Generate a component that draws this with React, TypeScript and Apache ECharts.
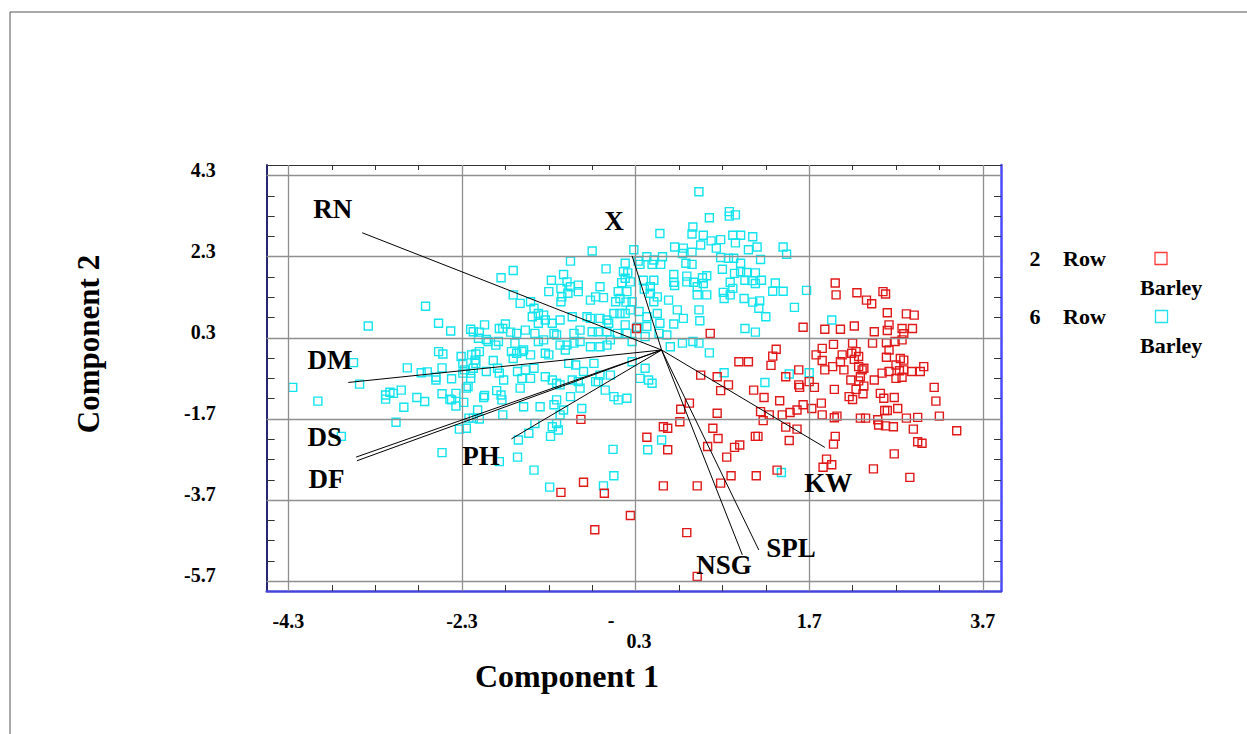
import React, { useEffect, useRef } from "react";
import * as echarts from "echarts";

// ---- axis ranges & ticks ----
const X_MIN = -4.55;
const X_MAX = 3.91;
const Y_MIN = -5.94;
const Y_MAX = 4.56;
const xTicks = [-4.3, -3.8, -3.3, -2.8, -2.3, -1.8, -1.3, -0.8, -0.3, 0.2, 0.7, 1.2, 1.7, 2.2, 2.7, 3.2, 3.7];
const yTicks = [4.3, 3.8, 3.3, 2.8, 2.3, 1.8, 1.3, 0.8, 0.3, -0.2, -0.7, -1.2, -1.7, -2.2, -2.7, -3.2, -3.7, -4.2, -4.7, -5.2, -5.7];
const xMajor = [-4.3, -2.3, -0.3, 1.7, 3.7];
const xLabelVals = [-4.3, -2.3, 1.7, 3.7];
const yMajor = [4.3, 2.3, 0.3, -1.7, -3.7, -5.7];

// ---- loading vectors ----
const vectorNames = ["RN", "X", "DM", "DS", "DF", "PH", "KW", "NSG", "SPL"];
const vectorX = [-3.45, -0.34, -3.61, -3.52, -3.51, -1.73, 1.88, 0.93, 1.12];
const vectorY = [2.89, 2.32, -0.8, -2.64, -2.73, -2.19, -2.4, -5.05, -4.93];
const labelX = [-3.79, -0.55, -3.82, -3.88, -3.86, -2.08, 1.92, 0.72, 1.49];
const labelY = [3.47, 3.18, -0.25, -2.14, -3.19, -2.61, -3.28, -5.3, -4.88];

// ---- scores: 6 Row Barley ----
const sixRow: number[][] = [
  [-1.85, 1.78], [-1.71, 1.96], [-1.71, 1.36],
  [0.43, 3.9], [0.55, 3.26], [0.78, 3.41], [0.85, 3.33], [0.78, 3.3], [-0.02, 2.87], [0.36, 3.03], [0.35, 2.86], [0.48, 2.83], [0.57, 2.69], [0.68, 2.72], [0.82, 2.83], [0.91, 2.83], [1.05, 2.79], [0.85, 2.64], [0.45, 2.59], [-0.8, 2.44], [-0.32, 2.47], [0.15, 2.54], [0.25, 2.51], [0.35, 2.41], [0.24, 2.38], [0.63, 2.51], [1.0, 2.47], [-1.05, 2.19], [-0.64, 2.0], [-0.42, 2.14], [-0.27, 2.19], [-0.17, 2.3], [-0.09, 2.22], [0.01, 2.3], [-0.25, 2.11], [-0.11, 2.11], [-0.01, 2.11], [0.28, 2.14], [0.35, 2.11], [0.68, 2.28], [0.77, 2.26], [0.83, 2.26], [0.91, 2.14], [0.7, 1.99], [0.84, 1.89], [0.91, 1.93], [0.98, 1.91], [1.08, 1.9], [-1.13, 1.86], [-1.27, 1.72], [-1.09, 1.68], [-0.96, 1.6], [-1.05, 1.56], [-1.16, 1.52], [-1.3, 1.44], [-0.96, 1.44], [-1.08, 1.4], [-0.71, 1.56], [-0.44, 1.93], [-0.39, 1.9], [-0.42, 1.77], [-0.46, 1.66], [-0.36, 1.68], [-0.21, 1.72], [-0.09, 1.72], [0.14, 1.86], [0.14, 1.67], [0.15, 1.59], [0.29, 1.82], [0.29, 1.68], [0.37, 1.67], [0.47, 1.78], [0.52, 1.83], [0.48, 1.64], [0.41, 1.56], [0.71, 1.42], [0.79, 1.67], [0.82, 1.52], [0.96, 1.72], [1.04, 1.71], [1.08, 1.64], [-0.5, 1.44], [-0.4, 1.44], [-0.2, 1.5], [-0.13, 1.56], [-1.15, 1.31], [-1.16, 1.19], [-0.82, 1.23], [-0.76, 1.31], [-0.67, 1.29], [-0.53, 1.19], [-0.48, 1.27], [-0.13, 1.4], [-0.05, 1.31], [0.08, 1.23], [0.52, 1.36], [0.41, 1.36], [0.79, 1.36], [0.95, 1.27], [1.05, 1.18], [0.72, 1.27], [-0.34, 1.19], [-0.41, 1.18], [-0.09, 1.19], [-1.63, 1.15], [-1.51, 1.19],
  [1.1, 2.54], [1.4, 2.54], [1.44, 2.36], [1.14, 2.23], [1.15, 1.72], [1.31, 1.65], [1.28, 1.45], [1.4, 1.45], [1.67, 1.47], [1.13, 1.21],
  [-2.72, 1.08], [-3.38, 0.59], [-2.57, 0.66], [-2.43, 0.47], [-2.2, 0.51], [-2.17, 0.45], [-2.1, 0.44], [-2.04, 0.62], [-1.87, 0.53], [-1.8, 0.64], [-1.83, 0.53], [-1.74, 0.44], [-2.11, 0.29], [-2.02, 0.26], [-2.0, 0.21], [-1.88, 0.21], [-1.91, 0.12], [-2.57, -0.04], [-2.52, -0.1], [-2.31, -0.16], [-2.29, -0.33], [-2.19, -0.12], [-2.14, -0.1], [-2.1, -0.04], [-2.15, -0.25], [-2.14, -0.33], [-1.94, -0.26], [-1.73, -0.04], [-1.71, -0.21], [-3.55, -0.31], [-2.93, -0.44], [-2.53, -0.44], [-2.77, -0.56], [-2.7, -0.54], [-2.6, -0.67], [-2.6, -0.74], [-2.42, -0.71], [-2.29, -0.57], [-2.27, -0.49], [-2.2, -0.57], [-2.2, -0.7], [-2.17, -0.45], [-2.02, -0.53], [-1.89, -0.45], [-1.87, -0.57], [-1.82, -0.74], [-3.48, -0.84], [-4.25, -0.92], [-3.96, -1.26], [-3.18, -1.11], [-3.18, -1.21], [-3.13, -1.04], [-3.09, -1.07], [-3.0, -0.99], [-2.82, -1.17], [-2.73, -1.27], [-2.97, -1.41], [-2.53, -1.08], [-2.44, -1.21], [-2.37, -1.07], [-2.42, -1.23], [-2.37, -1.38], [-2.28, -1.29], [-2.25, -0.94], [-2.23, -0.9], [-2.04, -1.12], [-2.05, -1.17], [-1.9, -1.0], [-1.85, -1.11], [-1.84, -1.23], [-1.83, -1.6], [-2.12, -1.48], [-2.17, -1.68], [-2.1, -1.7], [-2.22, -1.68], [-3.06, -1.78], [-2.33, -1.95], [-2.25, -1.93], [-3.69, -2.13],
  [-1.47, 1.03], [-1.49, 0.82], [-1.42, 0.9], [-1.36, 0.86], [-1.42, 0.66], [-1.34, 0.74], [-1.26, 0.66], [-1.17, 0.74], [-1.03, 0.82], [-0.86, 0.82], [-0.82, 0.78], [-0.71, 0.78], [-0.63, 0.74], [-0.61, 0.66], [-0.55, 0.9], [-0.48, 0.9], [-0.42, 0.9], [-0.36, 0.99], [-0.26, 0.95], [-0.17, 0.82], [-0.05, 0.9], [0.18, 0.99], [0.25, 0.78], [0.43, 0.99], [0.44, 0.72], [-0.42, 0.62], [-0.28, 0.56], [-0.17, 0.58], [-0.02, 0.66], [0.14, 0.64], [-1.67, 0.41], [-1.57, 0.49], [-1.46, 0.41], [-1.42, 0.21], [-1.36, 0.25], [-1.24, 0.41], [-1.21, 0.37], [-1.01, 0.41], [-0.94, 0.49], [-0.8, 0.45], [-0.73, 0.45], [-0.63, 0.45], [-0.51, 0.41], [-0.4, 0.41], [-0.34, 0.21], [-0.19, 0.33], [-0.03, 0.41], [0.06, 0.37], [0.1, 0.08], [0.24, 0.17], [0.36, 0.21], [0.43, 0.17], [0.55, -0.07], [0.96, 0.53], [1.08, 0.44], [-1.69, 0.17], [-1.59, 0.0], [-1.67, -0.08], [-1.61, -0.04], [-1.51, -0.12], [-1.34, -0.08], [-1.3, -0.12], [-1.17, 0.12], [-1.09, 0.12], [-1.11, 0.0], [-1.01, 0.17], [-0.94, 0.21], [-0.82, 0.08], [-0.71, 0.08], [-0.63, 0.12], [-0.59, 0.25], [-1.07, -0.33], [-0.99, -0.37], [-0.78, -0.33], [-0.9, -0.53], [-0.71, -0.62], [-0.59, -0.62], [-0.34, -0.29], [-0.19, -0.45], [-0.25, -0.7], [-0.15, -0.74], [-0.11, -0.82], [-1.66, -0.53], [-1.57, -0.49], [-1.47, -0.45], [-1.51, -0.7], [-1.61, -0.7], [-1.34, -0.66], [-1.26, -0.74], [-1.21, -0.82], [-1.17, -0.86], [-1.03, -0.74], [-0.96, -0.78], [-0.94, -0.94], [-0.76, -0.78], [-0.73, -0.78], [-1.63, -0.94], [-1.21, -1.23], [-1.05, -1.15], [-0.92, -1.44], [-0.65, -0.99], [-0.55, -1.15], [-0.5, -1.23], [-0.4, -1.19], [-1.59, -1.4], [-1.4, -1.4], [-1.24, -1.35], [-1.13, -1.48], [-1.17, -1.6], [-1.21, -1.81], [-1.26, -1.89], [-1.19, -1.97], [-1.46, -1.81], [-1.53, -2.05], [-1.28, -2.13], [-1.65, -2.22], [0.72, -0.56], [0.0, -2.22],
  [1.12, 1.03], [1.2, 0.82], [1.53, 1.05], [1.96, 0.74], [1.47, -0.59], [1.7, -0.56], [1.19, -0.8],
  [-2.53, -2.53], [-1.87, -2.75],
  [-1.66, -2.64], [-1.47, -2.96], [-1.29, -3.38], [-0.67, -3.35], [-0.55, -3.1], [-0.56, -2.45], [-0.16, -2.46],
  [1.38, -3.02],
];

// ---- scores: 2 Row Barley ----
const twoRow: number[][] = [
  [2.0, 1.65], [2.01, 1.36], [2.25, 1.41], [2.36, 1.23], [2.42, 1.14], [2.55, 1.44], [2.58, 1.38],
  [-0.29, 0.53], [0.56, 0.41], [0.89, -0.29], [1.0, -0.29], [0.45, -0.62], [0.64, -0.66], [0.77, -0.86], [0.68, -1.0], [1.06, -0.99], [0.32, -1.31], [0.22, -1.46], [0.64, -1.56], [0.21, -1.77], [0.02, -1.89], [0.07, -1.93], [-0.93, -1.71], [0.59, -1.93], [-0.17, -2.15], [0.65, -2.18], [1.08, -2.13],
  [1.63, 0.56], [1.88, 0.51], [2.06, 0.51], [2.22, 0.59], [2.45, 0.45], [2.6, 0.92], [2.82, 0.89], [2.91, 0.86], [2.62, 0.62], [2.6, 0.48], [2.77, 0.53], [2.89, 0.53], [2.79, 0.4], [2.77, 0.25], [2.69, 0.21], [2.59, 0.18], [2.43, 0.17], [2.2, 0.17], [1.98, 0.14], [1.85, 0.04], [1.78, -0.12], [1.85, -0.26], [1.32, 0.02], [1.28, -0.15], [1.26, -0.38], [1.58, -0.49], [1.43, -0.66], [1.88, -0.49], [1.97, -0.41], [2.08, -0.12], [2.06, -0.29], [2.19, -0.08], [2.24, -0.04], [2.27, -0.16], [2.22, -0.23], [2.1, -0.49], [2.27, -0.41], [2.31, -0.49], [2.33, -0.45], [2.29, -0.66], [2.18, -0.74], [2.27, -0.76], [2.45, -0.74], [2.54, -0.57], [2.62, -0.53], [2.7, -0.7], [2.77, -0.67], [2.74, -0.51], [2.75, -0.21], [2.79, -0.25], [2.7, -0.37], [2.79, -0.49], [2.88, -0.53], [2.98, -0.53], [3.02, -0.41], [2.59, -0.18], [2.62, 0.0], [1.58, -0.86], [1.59, -0.92], [1.7, -0.78], [1.76, -0.92], [1.99, -0.97], [2.24, -0.97], [2.33, -0.89], [2.32, -1.08], [2.52, -1.07], [2.56, -1.19], [2.68, -1.17], [2.72, -1.44], [2.2, -1.22], [2.16, -1.15], [2.57, -1.49], [2.6, -1.49], [3.14, -0.92], [3.16, -1.26], [3.2, -1.63], [2.95, -1.66], [2.82, -1.68], [1.18, -1.17], [1.36, -1.25], [1.63, -1.35], [1.56, -1.48], [1.48, -1.54], [1.39, -1.6], [1.24, -1.6], [1.17, -1.74], [1.14, -1.52], [1.73, -1.44], [1.84, -1.31], [1.85, -1.6], [1.99, -1.67], [2.02, -1.63], [2.29, -1.68], [2.35, -1.68], [2.49, -1.72], [2.5, -1.85], [2.58, -1.87], [2.67, -1.89], [2.9, -1.95], [3.4, -1.99], [1.43, -1.9], [1.56, -1.95], [1.11, -2.13], [1.47, -2.23], [2.0, -2.13], [1.98, -2.32],
  [-1.16, -3.51], [-0.9, -3.26], [-0.66, -3.53], [-0.36, -4.08], [-0.77, -4.43], [0.02, -3.35], [0.41, -3.35], [0.29, -4.5], [0.68, -3.28], [0.8, -3.1], [1.09, -3.1], [0.75, -2.64], [0.53, -2.38], [0.84, -2.4], [0.9, -2.34], [0.07, -2.46], [0.41, -5.58],
  [1.33, -2.96], [1.9, -2.69], [1.96, -2.83], [1.86, -2.89], [2.44, -2.93], [2.68, -2.56], [2.86, -3.14], [2.95, -2.26], [3.0, -2.3],
];

const FONT = "'Liberation Serif', 'Times New Roman', serif";
const CYAN = "#12e4ee";
const RED = "#e01818";
const TICK_FONT = 20;

export default function App() {
  const ref = useRef<HTMLDivElement>(null);

  useEffect(() => {
    document.body.style.margin = "0";
    if (!ref.current) return;
    const chart = echarts.init(ref.current, null, { renderer: "svg" });

    const baseAxis = {
      type: "value" as const,
      splitLine: { show: false },
    };

    const vectorSeries = vectorNames.map((n, i) => ({
      name: n,
      type: "line" as const,
      data: [
        [0, 0],
        [vectorX[i], vectorY[i]],
      ],
      symbol: "none",
      lineStyle: { color: "#000", width: 1 },
      silent: true,
      z: 5,
    }));

    const option: any = {
      animation: false,
      backgroundColor: "#fff",
      grid: { left: 266.7, top: 165, right: 246, bottom: 143, containLabel: false },
      xAxis: [
        {
          ...baseAxis,
          position: "bottom",
          min: X_MIN,
          max: X_MAX,
          axisLine: { show: true, onZero: false, lineStyle: { color: "#4444dd", width: 2.5 } },
          axisTick: { show: true, inside: true, length: 6, customValues: xTicks, lineStyle: { color: "#333", width: 1 } },
          axisLabel: {
            customValues: xLabelVals,
            formatter: (v: number) => v.toFixed(1),
            fontFamily: FONT,
            fontWeight: "bold",
            fontSize: TICK_FONT,
            color: "#000",
            margin: 20,
          },
        },
        {
          ...baseAxis,
          position: "top",
          min: X_MIN,
          max: X_MAX,
          axisLine: { show: true, onZero: false, lineStyle: { color: "#333", width: 1.2 } },
          axisTick: { show: true, inside: true, length: 5, customValues: xTicks, lineStyle: { color: "#333", width: 1 } },
          axisLabel: { show: false },
        },
      ],
      yAxis: [
        {
          ...baseAxis,
          position: "left",
          min: Y_MIN,
          max: Y_MAX,
          axisLine: { show: true, onZero: false, lineStyle: { color: "#262673", width: 2 } },
          axisTick: { show: true, inside: true, length: 8, customValues: yTicks, lineStyle: { color: "#333", width: 1 } },
          axisLabel: {
            customValues: yMajor,
            formatter: (v: number) => v.toFixed(1),
            fontFamily: FONT,
            fontWeight: "bold",
            fontSize: TICK_FONT,
            color: "#000",
            margin: 51,
            verticalAlign: "bottom",
            lineHeight: 12,
          },
        },
        {
          ...baseAxis,
          position: "right",
          min: Y_MIN,
          max: Y_MAX,
          axisLine: { show: true, onZero: false, lineStyle: { color: "#4a4aff", width: 2.5 } },
          axisTick: { show: true, inside: true, length: 7, customValues: yTicks, lineStyle: { color: "#333", width: 1 } },
          axisLabel: { show: false },
        },
      ],
      series: [
        {
          name: "grid",
          type: "line",
          data: [[0, 0]],
          symbol: "none",
          showSymbol: false,
          silent: true,
          z: 1,
          lineStyle: { opacity: 0 },
          markLine: {
            silent: true,
            symbol: ["none", "none"],
            label: { show: false },
            lineStyle: { color: "#8f8f8f", type: "solid", width: 1.3 },
            data: [
              ...xMajor.map((v) => ({ xAxis: v })),
              ...yMajor.map((v) => ({ yAxis: v })),
            ],
          },
        },
        {
          name: "6 Row Barley",
          type: "scatter",
          data: sixRow,
          symbol: "rect",
          symbolSize: 8,
          itemStyle: { color: "rgba(0,0,0,0)", borderColor: CYAN, borderWidth: 1.4, opacity: 1 },
          silent: true,
          z: 2,
        },
        {
          name: "2 Row Barley",
          type: "scatter",
          data: twoRow,
          symbol: "rect",
          symbolSize: 8,
          itemStyle: { color: "rgba(0,0,0,0)", borderColor: RED, borderWidth: 1.4, opacity: 1 },
          silent: true,
          z: 3,
        },
        ...vectorSeries,
        {
          name: "vector labels",
          type: "scatter",
          data: vectorNames.map((n, i) => ({ name: n, value: [labelX[i], labelY[i]] })),
          symbolSize: 2,
          itemStyle: { color: "rgba(0,0,0,0)", borderWidth: 0, opacity: 1 },
          silent: true,
          z: 6,
          label: {
            show: true,
            position: "inside",
            formatter: "{b}",
            fontFamily: FONT,
            fontWeight: "bold",
            fontSize: 27,
            color: "#000",
            textBorderWidth: 0,
          },
        },
      ],
      graphic: [
        { type: "line", shape: { x1: 10, y1: 12, x2: 1247, y2: 12 }, style: { stroke: "#555", lineWidth: 1 } },
        { type: "line", shape: { x1: 10, y1: 12, x2: 10, y2: 734 }, style: { stroke: "#555", lineWidth: 1 } },
        {
          type: "text",
          x: 611,
          y: 620,
          style: { text: "-", font: `bold ${TICK_FONT}px ${FONT}`, fill: "#000", align: "center", verticalAlign: "middle" },
        },
        {
          type: "text",
          x: 639,
          y: 641,
          style: { text: "0.3", font: `bold ${TICK_FONT}px ${FONT}`, fill: "#000", align: "center", verticalAlign: "middle" },
        },
        {
          type: "text",
          x: 567,
          y: 676,
          style: { text: "Component 1", font: `bold 32px ${FONT}`, fill: "#000", align: "center", verticalAlign: "middle" },
        },
        {
          type: "text",
          x: 88,
          y: 344,
          rotation: Math.PI / 2,
          style: { text: "Component 2", font: `bold 31px ${FONT}`, fill: "#000", align: "center", verticalAlign: "middle" },
        },
        // legend
        { type: "text", x: 1035, y: 258, style: { text: "2", font: `bold 22px ${FONT}`, fill: "#000", align: "center", verticalAlign: "middle" } },
        { type: "text", x: 1063, y: 258, style: { text: "Row", font: `bold 22px ${FONT}`, fill: "#000", align: "left", verticalAlign: "middle" } },
        { type: "rect", shape: { x: 1155, y: 252.5, width: 12, height: 12 }, style: { fill: "rgba(0,0,0,0)", stroke: "#ff3a3a", lineWidth: 1.3 } },
        { type: "text", x: 1140, y: 287, style: { text: "Barley", font: `bold 22px ${FONT}`, fill: "#000", align: "left", verticalAlign: "middle" } },
        { type: "text", x: 1035, y: 316, style: { text: "6", font: `bold 22px ${FONT}`, fill: "#000", align: "center", verticalAlign: "middle" } },
        { type: "text", x: 1063, y: 316, style: { text: "Row", font: `bold 22px ${FONT}`, fill: "#000", align: "left", verticalAlign: "middle" } },
        { type: "rect", shape: { x: 1155.5, y: 310.5, width: 12, height: 12 }, style: { fill: "rgba(0,0,0,0)", stroke: "#22e0ee", lineWidth: 1.3 } },
        { type: "text", x: 1140, y: 345, style: { text: "Barley", font: `bold 22px ${FONT}`, fill: "#000", align: "left", verticalAlign: "middle" } },
      ],
    };

    chart.setOption(option);
    return () => chart.dispose();
  }, []);

  return <div ref={ref} style={{ width: 1247, height: 734 }} />;
}
